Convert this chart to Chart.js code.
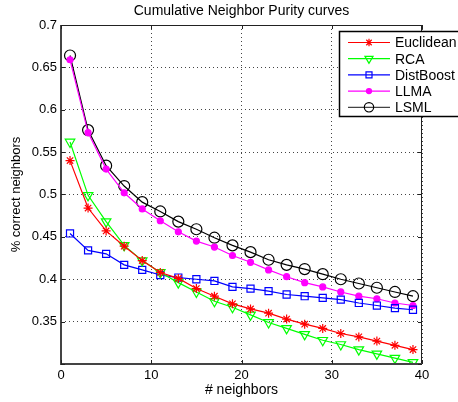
<!DOCTYPE html>
<html>
<head>
<meta charset="utf-8">
<script src="https://cdn.jsdelivr.net/npm/chart.js@4/dist/chart.umd.min.js"></script>
<style>
  html, body { margin: 0; padding: 0; background: #fff; }
  #wrap { width: 458px; height: 402px; }
</style>
</head>
<body>
<div id="wrap"><canvas id="myChart"></canvas></div>
<script>
var neighbors = [1, 3, 5, 7, 9, 11, 13, 15, 17, 19, 21, 23, 25, 27, 29, 31, 33, 35, 37, 39];
var euclidean = [0.540, 0.484, 0.457, 0.439, 0.422, 0.408, 0.401, 0.389, 0.380, 0.371, 0.365, 0.360, 0.353, 0.347, 0.342, 0.336, 0.332, 0.327, 0.322, 0.317];
var rca       = [0.562, 0.499, 0.468, 0.440, 0.422, 0.408, 0.396, 0.385, 0.374, 0.367, 0.358, 0.349, 0.342, 0.335, 0.328, 0.323, 0.317, 0.312, 0.307, 0.302];
var distBoost = [0.454, 0.434, 0.430, 0.417, 0.411, 0.405, 0.402, 0.400, 0.398, 0.391, 0.389, 0.386, 0.382, 0.380, 0.378, 0.376, 0.372, 0.369, 0.366, 0.364];
var llma      = [0.659, 0.573, 0.530, 0.502, 0.483, 0.469, 0.456, 0.445, 0.438, 0.428, 0.420, 0.411, 0.403, 0.396, 0.391, 0.385, 0.380, 0.377, 0.372, 0.369];
var lsml      = [0.664, 0.576, 0.534, 0.510, 0.491, 0.480, 0.468, 0.459, 0.449, 0.440, 0.432, 0.423, 0.417, 0.412, 0.406, 0.400, 0.395, 0.390, 0.385, 0.380];
var seriesNames = ["Euclidean", "RCA", "DistBoost", "LLMA", "LSML"];
var xTicks = [0, 10, 20, 30, 40];
var yTicks = [0.3, 0.35, 0.4, 0.45, 0.5, 0.55, 0.6, 0.65, 0.7];

var FONT = "'Liberation Sans', Arial, sans-serif";

function pts(ys) {
  return neighbors.map(function (x, i) { return {x: x, y: ys[i]}; });
}

var styles = [
  {color: "#ff0000", pointStyle: "star", radius: 4.5, fill: false, rot: 0},
  {color: "#00ff00", pointStyle: "triangle", radius: 5.5, fill: false, rot: 180},
  {color: "#0000ff", pointStyle: "rect", radius: 5, fill: false, rot: 0},
  {color: "#ff00ff", pointStyle: "circle", radius: 3, fill: true, rot: 0},
  {color: "#000000", pointStyle: "circle", radius: 5.5, fill: false, rot: 0}
];
var allData = [euclidean, rca, distBoost, llma, lsml];

var datasets = allData.map(function (d, i) {
  var s = styles[i];
  return {
    label: seriesNames[i],
    data: pts(d),
    borderColor: s.color,
    backgroundColor: s.fill ? s.color : "rgba(0,0,0,0)",
    pointBorderColor: s.color,
    pointBackgroundColor: s.fill ? s.color : "rgba(0,0,0,0)",
    pointStyle: s.pointStyle,
    pointRadius: s.radius,
    pointRotation: s.rot,
    pointBorderWidth: 1.2,
    borderWidth: 1.2,
    tension: 0
  };
});

// title, box frame, inward ticks, legend
var matlabLook = {
  id: "matlabLook",
  afterDraw: function (chart) {
    var ctx = chart.ctx, a = chart.chartArea;
    var xs = chart.scales.x, ys = chart.scales.y;
    ctx.save();
    ctx.strokeStyle = "#222";
    ctx.lineWidth = 1;
    ctx.strokeRect(a.left + 0.5, a.top + 0.5, a.right - a.left - 1, a.bottom - a.top - 1);
    ctx.lineWidth = 2;
    ctx.strokeStyle = "#444";
    ctx.beginPath();
    ctx.moveTo(a.left, a.top); ctx.lineTo(a.left, a.bottom); ctx.lineTo(a.right, a.bottom);
    ctx.stroke();
    ctx.lineWidth = 1;
    ctx.strokeStyle = "#222";
    ctx.beginPath();
    xTicks.forEach(function (t) {
      var px = Math.round(xs.getPixelForValue(t)) + 0.5;
      ctx.moveTo(px, a.bottom); ctx.lineTo(px, a.bottom - 4);
      ctx.moveTo(px, a.top); ctx.lineTo(px, a.top + 4);
    });
    yTicks.forEach(function (t) {
      var py = Math.round(ys.getPixelForValue(t)) + 0.5;
      ctx.moveTo(a.left, py); ctx.lineTo(a.left + 4, py);
      ctx.moveTo(a.right, py); ctx.lineTo(a.right - 4, py);
    });
    ctx.stroke();

    // title
    ctx.fillStyle = "#000";
    ctx.font = "14px " + FONT;
    ctx.textAlign = "center";
    ctx.textBaseline = "middle";
    ctx.fillText("Cumulative Neighbor Purity curves", (a.left + a.right) / 2, 11);

    // legend
    var bx = 339.5, by = 31.5, bw = 125, bh = 85;
    ctx.fillStyle = "#fff";
    ctx.fillRect(bx, by, bw, bh);
    ctx.strokeStyle = "#000";
    ctx.lineWidth = 1.5;
    ctx.strokeRect(bx, by, bw, bh);
    ctx.font = "14px " + FONT;
    ctx.textAlign = "left";
    for (var i = 0; i < seriesNames.length; i++) {
      var s = styles[i];
      var y = 42.5 + i * 16.2;
      ctx.strokeStyle = i === 4 ? "#444" : s.color;
      ctx.lineWidth = 1.2;
      ctx.beginPath();
      ctx.moveTo(348, y); ctx.lineTo(390, y);
      ctx.stroke();
      ctx.strokeStyle = s.color;
      ctx.fillStyle = s.fill ? s.color : "rgba(0,0,0,0)";
      Chart.helpers.drawPoint(ctx, {
        pointStyle: s.pointStyle,
        radius: s.radius * 0.85,
        rotation: s.rot,
        borderWidth: 1.2
      }, 369, y);
      ctx.fillStyle = "#000";
      ctx.fillText(seriesNames[i], 395, y + 1);
    }
    ctx.restore();
  }
};

new Chart("myChart", {
  type: "line",
  data: {datasets: datasets},
  plugins: [matlabLook],
  options: {
    responsive: true,
    maintainAspectRatio: false,
    animation: false,
    layout: {padding: {left: 0, right: 36, top: 25, bottom: 0}},
    plugins: {
      legend: {display: false},
      title: {display: false},
      tooltip: {enabled: false}
    },
    scales: {
      x: {
        type: "linear",
        min: 0,
        max: 40,
        afterFit: function (s) { s.height = 38; },
        afterBuildTicks: function (s) { s.ticks = xTicks.map(function (v) { return {value: v}; }); },
        grid: {color: "#444", lineWidth: 1, drawTicks: false},
        border: {display: false, dash: [1, 3]},
        ticks: {color: "#000", font: {family: FONT, size: 13}, padding: 4},
        title: {display: true, text: "# neighbors", color: "#000", font: {family: FONT, size: 14}, padding: {top: 0, bottom: 3}}
      },
      y: {
        type: "linear",
        min: 0.3,
        max: 0.7,
        afterFit: function (s) { s.width = 61; },
        afterBuildTicks: function (s) { s.ticks = yTicks.map(function (v) { return {value: v}; }); },
        grid: {color: "#444", lineWidth: 1, drawTicks: false},
        border: {display: false, dash: [1, 3]},
        ticks: {
          color: "#000",
          font: {family: FONT, size: 13},
          padding: 4,
          callback: function (v) { return v === 0.3 ? "" : String(Math.round(v * 100) / 100); }
        },
        title: {display: true, text: "% correct neighbors", color: "#000", font: {family: FONT, size: 13}, padding: {top: 9, bottom: 0}}
      }
    }
  }
});
</script>
</body>
</html>
